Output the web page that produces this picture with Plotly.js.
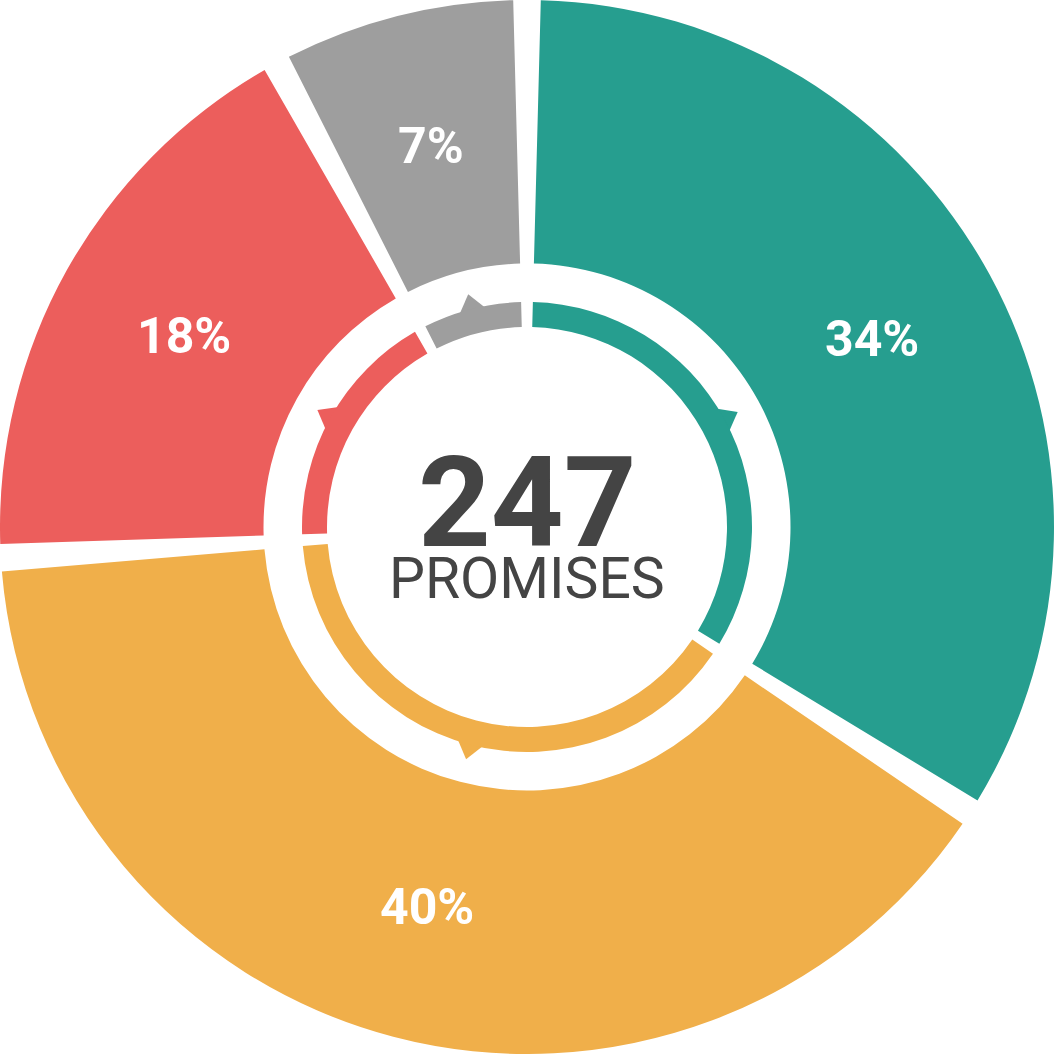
<!DOCTYPE html>
<html>
<head>
<meta charset="utf-8">
<script src="https://cdn.plot.ly/plotly-3.0.1.min.js"></script>
<style>html,body{margin:0;padding:0;background:#fff;}#chart{width:1054px;height:1054px;}</style>
</head>
<body>
<div id="chart"></div>
<script>
const categories = ['Kept', 'In progress', 'Broken', 'Not rated'];
const promiseCounts = [85, 100, 44, 18];
const sliceColors = ['#269E8F', '#F0AF4A', '#EC5E5C', '#9E9E9E'];
const totalLabel = '247';
const subLabel = 'PROMISES';

const total = promiseCounts.reduce((a, b) => a + b, 0);
const gapDeg = 3;
const nG = promiseCounts.length;
const g = total * gapDeg / (360 - nG * gapDeg);
const clear = 'rgba(0,0,0,0)';

const vals = [], cols = [], labs = [];
vals.push(g / 2); cols.push(clear); labs.push('gap0');
promiseCounts.forEach((v, i) => {
  vals.push(v); cols.push(sliceColors[i]); labs.push(categories[i]);
  if (i < nG - 1) { vals.push(g); cols.push(clear); labs.push('gap' + (i + 1)); }
});
vals.push(g / 2); cols.push(clear); labs.push('gapEnd');

const sumAll = vals.reduce((a, b) => a + b, 0);
const mids = [];
let acc = 0;
labs.forEach((l, k) => {
  const a0 = acc / sumAll * 360;
  acc += vals[k];
  const a1 = acc / sumAll * 360;
  if (!l.startsWith('gap')) mids.push((a0 + a1) / 2);
});

const rad = d => d * Math.PI / 180;
const px = 1 / 527;
const pol = (r, a) => [r * Math.sin(rad(a)), r * Math.cos(rad(a))];

// arrow bumps on the inner ring (at slice mid angles)
const arrowTraces = mids.map((a, i) => {
  const A = pol(218 * px, a - 4.6), B = pol(240 * px, a), C = pol(218 * px, a + 4.6);
  return {
    type: 'scatter', mode: 'lines', fill: 'toself', fillcolor: sliceColors[i],
    x: [A[0], B[0], C[0], A[0]], y: [A[1], B[1], C[1], A[1]],
    line: {width: 0, color: sliceColors[i]}, hoverinfo: 'skip', showlegend: false
  };
});

const innerHalf = 225 / 1054;

const data = arrowTraces.concat([
  {
    type: 'pie', values: vals, labels: labs, textinfo: 'none',
    sort: false, direction: 'clockwise', rotation: 0, hole: 0.5,
    marker: {colors: cols, line: {width: 0}},
    hoverinfo: 'skip', domain: {x: [0, 1], y: [0, 1]}, showlegend: false
  },
  {
    type: 'pie', values: vals, labels: labs.map(l => l + ' ring'), textinfo: 'none',
    sort: false, direction: 'clockwise', rotation: 0, hole: 200 / 225,
    marker: {colors: cols, line: {width: 0}},
    hoverinfo: 'skip', domain: {x: [0.5 - innerHalf, 0.5 + innerHalf], y: [0.5 - innerHalf, 0.5 + innerHalf]},
    showlegend: false
  }
]);

const pctAnn = promiseCounts.map((v, i) => {
  const p = pol(0.745, mids[i]);
  return {
    text: '<b>' + Math.round(v / total * 100) + '%</b>', x: p[0], y: p[1], xref: 'x', yref: 'y',
    showarrow: false, xanchor: 'center', yanchor: 'middle',
    font: {family: 'Roboto', size: 50, color: '#ffffff'}
  };
});

const layout = {
  width: 1054, height: 1054,
  margin: {l: 0, r: 0, t: 0, b: 0, pad: 0},
  paper_bgcolor: '#ffffff', plot_bgcolor: 'rgba(0,0,0,0)',
  showlegend: false,
  xaxis: {range: [-1, 1], visible: false, fixedrange: true},
  yaxis: {range: [-1, 1], visible: false, fixedrange: true},
  annotations: pctAnn.concat([
    {text: '<b>' + totalLabel + '</b>', x: 0.5, y: 0.523, xref: 'paper', yref: 'paper', showarrow: false,
     font: {family: 'Roboto', size: 127, color: '#444444'}, xanchor: 'center', yanchor: 'middle'},
    {text: subLabel, x: 0.5, y: 0.4516, xref: 'paper', yref: 'paper', showarrow: false,
     font: {family: 'Roboto', size: 57, color: '#444444'}, xanchor: 'center', yanchor: 'middle'}
  ])
};

Plotly.newPlot('chart', data, layout, {displayModeBar: false, staticPlot: true});
</script>
</body>
</html>
